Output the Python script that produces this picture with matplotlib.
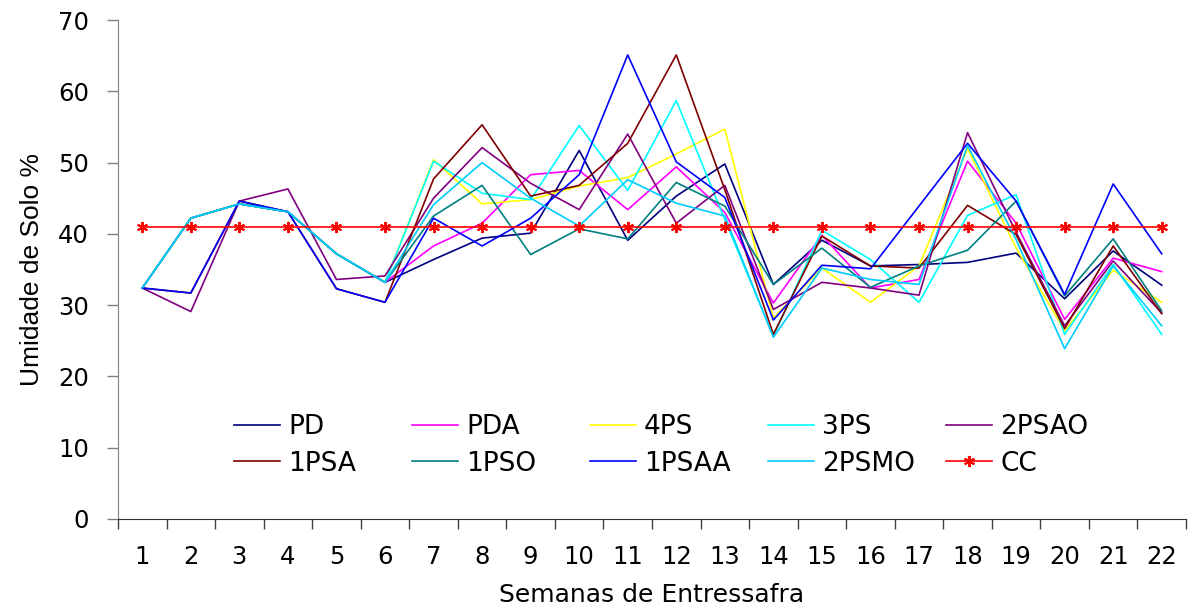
"""
Soil moisture per week of the off-season, per treatment.
"""
import matplotlib

matplotlib.use("Agg")
import matplotlib.pyplot as plt

# Weeks of the off-season (x categories)
weeks = list(range(1, 23))

# Soil moisture (%) per treatment
pd_values = [32.4, 42.2, 44.2, 43.1, 37.2, 33.2, 36.4, 39.4, 40.1, 51.7, 39.1,
             45.3, 49.8, 32.9, 39.1, 35.5, 35.7, 36.0, 37.3, 30.9, 37.6, 32.8]
pda_values = [32.4, 42.2, 44.2, 43.1, 37.2, 33.2, 38.3, 41.5, 48.3, 48.9, 43.4,
              49.4, 43.0, 30.3, 39.8, 32.4, 33.6, 50.2, 41.5, 28.0, 36.6, 34.7]
ps4_values = [32.4, 42.2, 44.2, 43.1, 37.2, 33.2, 50.4, 44.2, 44.8, 46.7, 47.9,
              51.2, 54.7, 28.2, 35.2, 30.4, 35.5, 52.0, 38.0, 26.4, 34.9, 30.4]
ps3_values = [32.4, 42.2, 44.2, 43.1, 37.2, 33.2, 50.2, 45.7, 44.8, 55.2, 46.1,
              58.7, 42.0, 25.6, 40.5, 36.4, 30.4, 42.6, 45.5, 25.9, 35.7, 25.9]
psao2_values = [32.4, 29.1, 44.6, 46.3, 33.6, 34.1, 45.0, 52.1, 47.1, 43.4, 54.0,
                41.5, 46.8, 29.4, 33.2, 32.4, 31.4, 54.2, 40.2, 27.1, 36.2, 28.9]
psa1_values = [32.4, 31.7, 44.6, 43.1, 32.3, 30.4, 47.7, 55.3, 45.3, 46.8, 52.7,
               65.1, 46.2, 25.9, 39.7, 35.5, 35.2, 44.0, 39.9, 26.7, 38.3, 28.8]
pso1_values = [32.4, 42.2, 44.2, 43.1, 37.2, 33.2, 42.5, 46.8, 37.1, 40.7, 39.3,
               47.2, 43.9, 32.9, 38.0, 32.5, 35.5, 37.7, 44.6, 31.3, 39.3, 29.2]
psaa1_values = [32.4, 31.7, 44.6, 43.1, 32.3, 30.4, 42.2, 38.3, 42.2, 48.3, 65.1,
                50.1, 45.1, 27.9, 35.6, 35.1, 43.9, 52.7, 44.6, 31.5, 47.0, 37.2]
psmo2_values = [32.4, 42.2, 44.2, 43.1, 37.2, 33.2, 44.1, 50.0, 45.0, 41.1, 47.6,
                44.3, 42.5, 25.5, 35.2, 33.6, 32.9, 52.4, 39.2, 23.9, 35.5, 27.1]
# Field capacity
cc_values = [41.0, 41.0, 41.0, 41.0, 41.0, 41.0, 41.0, 41.0, 41.0, 41.0, 41.0,
             41.0, 41.0, 41.0, 41.0, 41.0, 41.0, 41.0, 41.0, 41.0, 41.0, 41.0]

series_names = ["PD", "PDA", "4PS", "3PS", "2PSAO", "1PSA", "1PSO", "1PSAA", "2PSMO"]
series_values = [pd_values, pda_values, ps4_values, ps3_values, psao2_values,
                 psa1_values, pso1_values, psaa1_values, psmo2_values]
series_colors = ["#000080", "#FF00FF", "#FFFF00", "#00FFFF", "#800080",
                 "#800000", "#008080", "#0000FF", "#00CCFF"]

fig = plt.figure(figsize=(11.9, 6.07), dpi=100)
ax = fig.add_axes([118 / 1190, 1 - 519 / 607, 1068 / 1190, 499 / 607])

# Plot the treatments in the Excel order (later ones on top)
lines = {}
for name, values, color in zip(series_names, series_values, series_colors):
    (line,) = ax.plot(weeks, values, color=color, lw=1.2, label=name)
    lines[name] = line

# Field capacity line with asterisk markers
(cc_line,) = ax.plot(weeks, cc_values, color="#FF0000", lw=1.2, marker=(6, 2, 0),
                     markersize=8, markeredgewidth=1.4, label="CC")
lines["CC"] = cc_line

# Axes limits and ticks: category ticks sit between the weeks
ax.set_xlim(0.5, 22.5)
ax.set_ylim(0, 70)
ax.set_yticks(range(0, 71, 10))
ax.set_xticks([w - 0.5 for w in weeks] + [22.5])
ax.set_xticklabels([])
ax.set_xticks(weeks, minor=True)
ax.set_xticklabels([str(w) for w in weeks], minor=True, fontsize=17.5, family="DejaVu Sans")
ax.tick_params(axis="x", which="major", length=7, width=1, color="#404040", direction="out")
ax.tick_params(axis="x", which="minor", length=0, pad=19)
ax.tick_params(axis="y", length=8, width=1, color="#808080", pad=13, labelsize=17.5)
for label in ax.get_yticklabels():
    label.set_family("DejaVu Sans")

for side in ["top", "right"]:
    ax.spines[side].set_visible(False)
ax.spines["left"].set_color("#808080")
ax.spines["bottom"].set_color("#303030")

ax.set_xlabel("Semanas de Entressafra", fontsize=18, family="DejaVu Sans", labelpad=10)
ax.set_ylabel("Umidade de Solo %", fontsize=19,
              family=["Liberation Sans Narrow", "Liberation Sans", "DejaVu Sans"], labelpad=10)

# Legend: five columns of two entries, each placed at its own x
legend_columns = [["PD", "1PSA"], ["PDA", "1PSO"], ["4PS", "1PSAA"],
                  ["3PS", "2PSMO"], ["2PSAO", "CC"]]
column_x = [234, 412, 590, 768, 946]
for names, x in zip(legend_columns, column_x):
    fig.legend(
        [lines[n] for n in names],
        names,
        loc="center left",
        bbox_to_anchor=(x / 1190, 1 - 445.5 / 607),
        frameon=False,
        borderpad=0,
        borderaxespad=0,
        numpoints=1,
        handlelength=1.75,
        handletextpad=0.3,
        labelspacing=0.38,
        prop={"family": "DejaVu Sans", "size": 19},
    )

fig.savefig("out.png", dpi=100)
